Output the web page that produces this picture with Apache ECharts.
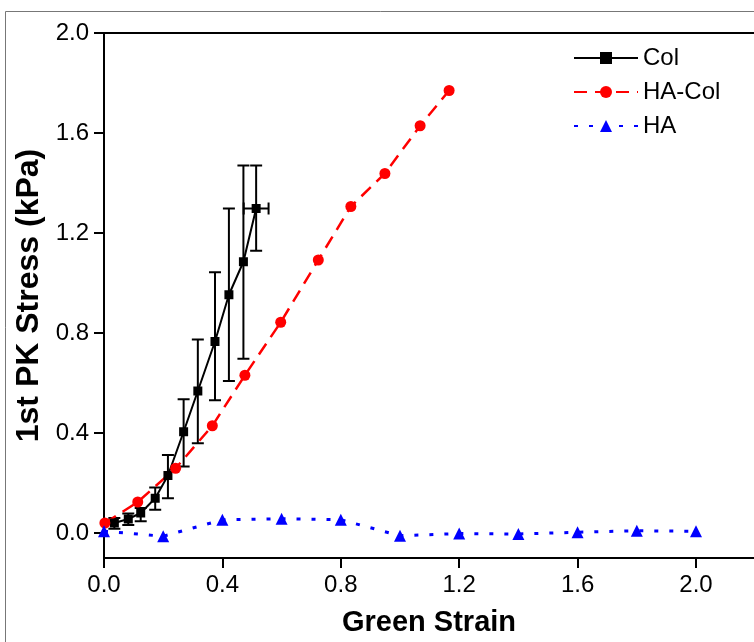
<!DOCTYPE html>
<html>
<head>
<meta charset="utf-8">
<script src="https://cdn.jsdelivr.net/npm/echarts@6/dist/echarts.min.js"></script>
<style>
html,body{margin:0;padding:0;background:#fff;}
#chart{width:754px;height:642px;}
</style>
</head>
<body>
<div id="chart"></div>
<script>
// ---- data ----
const xTicks = [0, 0.4, 0.8, 1.2, 1.6, 2.0];
const yTicks = [0, 0.4, 0.8, 1.2, 1.6, 2.0];

const colX    = [0.035, 0.082, 0.124, 0.173, 0.216, 0.269, 0.317, 0.375, 0.422, 0.471, 0.514];
const colY    = [0.040, 0.056, 0.080, 0.139, 0.230, 0.405, 0.568, 0.766, 0.953, 1.085, 1.298];
const colLow  = [0.017, 0.032, 0.047, 0.093, 0.139, 0.266, 0.359, 0.531, 0.608, 0.697, 1.129];
const colHigh = [0.060, 0.078, 0.100, 0.182, 0.312, 0.535, 0.774, 1.043, 1.298, 1.470, 1.470];
const colXErr = [0, 0, 0, 0, 0, 0, 0, 0, 0, 0, 0.042];

const haColX = [0.003, 0.114, 0.242, 0.366, 0.476, 0.597, 0.724, 0.834, 0.949, 1.068, 1.166];
const haColY = [0.040, 0.124, 0.259, 0.429, 0.631, 0.843, 1.092, 1.306, 1.438, 1.629, 1.770];

const haX = [0, 0.2, 0.4, 0.6, 0.8, 1.0, 1.2, 1.4, 1.6, 1.8, 2.0];
const haY = [0.007, -0.013, 0.053, 0.057, 0.053, -0.011, -0.002, -0.004, 0.003, 0.009, 0.007];

const zip = (a, b) => a.map((v, i) => [v, b[i]]);
const errData = colX.map((v, i) => [v, colY[i], colLow[i], colHigh[i], colXErr[i]]);

const chart = echarts.init(document.getElementById('chart'), null, {renderer: 'canvas'});
const FONT = '"Liberation Sans", Arial, sans-serif';
const X_MAX = 2.196;

const option = {
  backgroundColor: '#fff',
  animation: false,
  textStyle: {fontFamily: FONT},
  graphic: [{
    type: 'rect', silent: true, z: -10,
    shape: {x: 5.5, y: 11.5, width: 900, height: 900},
    style: {fill: 'none', stroke: '#777', lineWidth: 1}
  }],
  grid: {
    left: 104, top: 33, width: 650, height: 528, show: false
  },
  legend: {
    orient: 'vertical', left: 568, top: 41,
    itemWidth: 64, itemHeight: 15, itemGap: 10,
    data: ['Col', 'HA-Col', 'HA'],
    textStyle: {fontFamily: FONT, fontSize: 24, color: '#000'}
  },
  xAxis: [{
    type: 'value', min: 0, max: X_MAX, position: 'bottom',
    name: 'Green Strain', nameLocation: 'middle', nameGap: 50,
    nameTextStyle: {fontFamily: FONT, fontSize: 29, fontWeight: 'bold', color: '#000'},
    axisLine: {show: true, onZero: false, lineStyle: {color: '#000', width: 2}},
    axisTick: {show: true, length: 10, lineStyle: {color: '#000', width: 2}, customValues: xTicks},
    axisLabel: {show: true, margin: 15, fontSize: 24, color: '#000', fontFamily: FONT,
      customValues: xTicks, formatter: v => v.toFixed(1)},
    splitLine: {show: false}
  }, {
    type: 'value', min: 0, max: X_MAX, position: 'top',
    axisLine: {show: true, onZero: false, lineStyle: {color: '#000', width: 2}},
    axisTick: {show: false}, axisLabel: {show: false}, splitLine: {show: false}
  }],
  yAxis: {
    type: 'value', min: -0.1, max: 2.0,
    name: '1st PK Stress (kPa)', nameLocation: 'middle', nameGap: 58, nameRotate: 90,
    nameTextStyle: {fontFamily: FONT, fontSize: 32, fontWeight: 'bold', color: '#000'},
    axisLine: {show: true, onZero: false, lineStyle: {color: '#000', width: 2}},
    axisTick: {show: true, length: 10, lineStyle: {color: '#000', width: 2}, customValues: yTicks},
    axisLabel: {show: true, margin: 15, fontSize: 24, color: '#000', fontFamily: FONT,
      customValues: yTicks, formatter: v => v.toFixed(1)},
    splitLine: {show: false}
  },
  series: [
    {
      name: 'Col-err', type: 'custom', z: 2,
      data: errData,
      renderItem: function (params, api) {
        const x = api.value(0), y = api.value(1), lo = api.value(2), hi = api.value(3), xe = api.value(4);
        const pTop = api.coord([x, hi]);
        const pBot = api.coord([x, lo]);
        const cap = 6;
        const st = {stroke: '#000', lineWidth: 2, fill: 'none'};
        const children = [
          {type: 'line', shape: {x1: pTop[0], y1: pTop[1], x2: pBot[0], y2: pBot[1]}, style: st},
          {type: 'line', shape: {x1: pTop[0] - cap, y1: pTop[1], x2: pTop[0] + cap, y2: pTop[1]}, style: st},
          {type: 'line', shape: {x1: pBot[0] - cap, y1: pBot[1], x2: pBot[0] + cap, y2: pBot[1]}, style: st}
        ];
        if (xe > 0) {
          const pL = api.coord([x - xe, y]);
          const pR = api.coord([x + xe, y]);
          children.push({type: 'line', shape: {x1: pL[0], y1: pL[1], x2: pR[0], y2: pR[1]}, style: st});
          children.push({type: 'line', shape: {x1: pL[0], y1: pL[1] - cap, x2: pL[0], y2: pL[1] + cap}, style: st});
          children.push({type: 'line', shape: {x1: pR[0], y1: pR[1] - cap, x2: pR[0], y2: pR[1] + cap}, style: st});
        }
        return {type: 'group', children: children};
      }
    },
    {
      name: 'Col', type: 'line', z: 3,
      data: zip(colX, colY),
      symbol: 'rect', symbolSize: 9,
      itemStyle: {color: '#000'},
      lineStyle: {color: '#000', width: 2}
    },
    {
      name: 'HA-Col', type: 'line', z: 3,
      data: zip(haColX, haColY),
      symbol: 'circle', symbolSize: 11,
      itemStyle: {color: '#ff0000'},
      lineStyle: {color: '#ff0000', width: 2.5, type: [13, 8]}
    },
    {
      name: 'HA', type: 'line', z: 3,
      data: zip(haX, haY),
      symbol: 'triangle', symbolSize: 12,
      itemStyle: {color: '#0000ff'},
      lineStyle: {color: '#0000ff', width: 3, type: [4, 11]}
    }
  ]
};
chart.setOption(option);
</script>
</body>
</html>
